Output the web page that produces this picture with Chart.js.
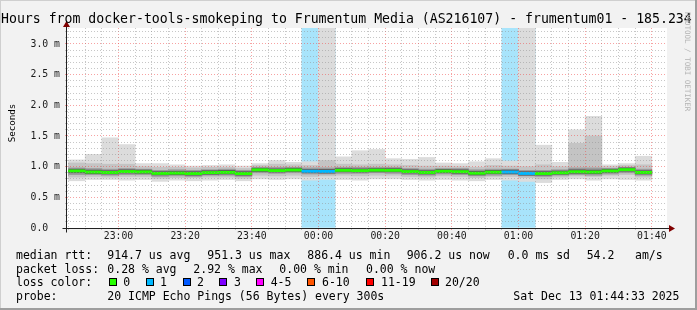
<!DOCTYPE html>
<html>
<head>
<meta charset="utf-8">
<script src="https://cdn.jsdelivr.net/npm/chart.js@4.4.1/dist/chart.umd.min.js"></script>
<style>
  html, body { margin: 0; padding: 0; background: #f2f2f2; overflow: hidden; }
  #wrap { position: relative; width: 697px; height: 310px; overflow: hidden; background: #f2f2f2; }
  #c { position: absolute; left: 0; top: 0; }
  .mono { position: absolute; font-family: "DejaVu Sans Mono", monospace; white-space: pre; color: #000; }
  .leg { font-size: 11.5px; line-height: 14px; }
  .box { position: absolute; width: 8px; height: 8px; box-sizing: border-box; border: 1px solid #000; }
  .edge { position: absolute; }
</style>
</head>
<body>
<div id="wrap">
  <canvas id="c" width="697" height="310"></canvas>
  <div class="edge" style="left:0;top:0;width:697px;height:1px;background:#cfcfcf"></div>
  <div class="edge" style="left:0;top:0;width:1px;height:310px;background:#cfcfcf"></div>
  <div class="edge" style="left:695px;top:0;width:2px;height:310px;background:#9e9e9e"></div>
  <div class="edge" style="left:0;top:308px;width:697px;height:2px;background:#9e9e9e"></div>
  <div id="title" class="mono" style="left:1px;top:11.4px;font-size:13.2px;line-height:16px;">Hours from docker-tools-smokeping to Frumentum Media (AS216107) - frumentum01 - 185.234</div>
  <div id="ytitle" class="mono" style="left:11px;top:122.5px;font-size:9.2px;line-height:11px;transform:translate(-50%,-50%) rotate(-90deg);">Seconds</div>
  <div id="wm" class="mono" style="left:683px;top:12px;font-size:7.5px;line-height:8px;color:#b4b4b4;writing-mode:vertical-rl;">RRDTOOL / TOBI OETIKER</div>
  <div id="legend"></div>
</div>
<script>
// ---------------- data ----------------
const slotStarts = ['22:45','22:50','22:55','23:00','23:05','23:10','23:15','23:20','23:25','23:30','23:35','23:40',
  '23:45','23:50','23:55','00:00','00:05','00:10','00:15','00:20','00:25','00:30','00:35','00:40',
  '00:45','00:50','00:55','01:00','01:05','01:10','01:15','01:20','01:25','01:30','01:35'];

// median RTT per 5-minute slot (ms)
const medianRtt = [0.930,0.912,0.905,0.920,0.915,0.890,0.895,0.888,0.903,0.907,0.887,0.948,
  0.936,0.945,0.925,0.922,0.940,0.935,0.942,0.940,0.920,0.905,0.925,0.918,
  0.893,0.910,0.912,0.889,0.888,0.900,0.917,0.912,0.930,0.951,0.906];

// lost pings (of 20) per slot
const lostPings = [0,0,0,0,0,0,0,0,0,0,0,0, 0,0,1,1,0,0,0,0,0,0,0,0, 0,0,1,1,0,0,0,0,0,0,0];

// smoke: spread of the 20 pings (ms)
const smokeMin = [0.77,0.79,0.79,0.78,0.79,0.76,0.78,0.77,0.78,0.79,0.77,0.80,
  0.79,0.80,0.78,0.79,0.79,0.78,0.80,0.80,0.79,0.78,0.79,0.78,
  0.77,0.79,0.78,0.76,0.74,0.79,0.80,0.78,0.80,0.79,0.78];
const smokeMax = [1.11,1.20,1.47,1.36,1.05,1.05,1.03,1.01,1.02,1.03,1.01,1.05,
  1.10,1.07,1.08,3.50,1.16,1.26,1.28,1.13,1.12,1.15,1.06,1.05,
  1.08,1.13,1.09,3.50,1.35,1.07,1.60,1.82,1.03,1.05,1.17];
const smokeP10 = [0.83,0.84,0.83,0.84,0.84,0.81,0.82,0.82,0.83,0.83,0.81,0.86,
  0.85,0.86,0.84,0.85,0.86,0.85,0.86,0.86,0.84,0.83,0.85,0.84,
  0.82,0.84,0.84,0.82,0.80,0.83,0.85,0.84,0.86,0.87,0.83];
const smokeP90 = [1.06,1.05,1.04,1.04,1.00,0.99,0.99,0.98,0.99,0.99,0.97,1.02,
  1.04,1.03,1.02,1.10,1.04,1.03,1.04,1.03,1.02,1.01,1.01,1.00,
  0.99,1.02,1.01,1.00,1.03,1.00,1.38,1.50,1.00,1.02,1.03];
const smokeP25 = [0.87,0.87,0.86,0.87,0.87,0.84,0.85,0.84,0.86,0.86,0.84,0.90,
  0.89,0.90,0.88,0.88,0.89,0.89,0.90,0.89,0.87,0.86,0.88,0.87,
  0.85,0.86,0.87,0.85,0.84,0.86,0.87,0.86,0.88,0.90,0.86];
const smokeP75 = [0.98,0.97,0.96,0.97,0.96,0.94,0.95,0.94,0.95,0.96,0.94,0.99,
  0.99,0.99,0.98,0.98,0.99,0.99,0.99,0.99,0.97,0.96,0.97,0.97,
  0.95,0.96,0.96,0.94,0.94,0.95,0.98,0.98,0.97,0.99,0.96];
const smokeP40 = [0.900,0.885,0.880,0.895,0.890,0.865,0.870,0.860,0.875,0.880,0.860,0.920,
  0.910,0.920,0.900,0.895,0.915,0.910,0.915,0.915,0.895,0.880,0.900,0.890,
  0.865,0.885,0.885,0.860,0.860,0.875,0.890,0.885,0.905,0.925,0.880];
const smokeP60 = [0.960,0.945,0.935,0.950,0.945,0.920,0.925,0.920,0.935,0.940,0.920,0.975,
  0.965,0.975,0.955,0.955,0.970,0.965,0.970,0.970,0.950,0.935,0.955,0.950,
  0.925,0.940,0.945,0.920,0.920,0.930,0.950,0.945,0.960,0.980,0.935];

const xTickLabels = ['23:00','23:20','23:40','00:00','00:20','00:40','01:00','01:20','01:40'];
const yTickValues = [0, 0.5, 1.0, 1.5, 2.0, 2.5, 3.0];
const yTickLabels = ['0.0', '0.5 m', '1.0 m', '1.5 m', '2.0 m', '2.5 m', '3.0 m'];
const windowStart = '22:44:33';
const windowEnd = '01:44:33';
const yAxisMax = 3.26;

const lossLegendLabels = ['0', '1', '2', '3', '4-5', '6-10', '11-19', '20/20'];
const lossLegendColors = ['#26ff00', '#00b8ff', '#0059ff', '#7e00ff', '#ff00ff', '#ff5500', '#ff0000', '#a10000'];

const statLines = [
  [[16, 'median rtt:'], [107.3, '914.7 us avg'], [207.3, '951.3 us max'], [307.3, '886.4 us min'], [406.7, '906.2 us now'], [507.7, '0.0 ms sd'], [586.7, '54.2'], [635, 'am/s']],
  [[16, 'packet loss:'], [107.3, '0.28 % avg'], [193.3, '2.92 % max'], [279.3, '0.00 % min'], [366, '0.00 % now']],
  [[16, 'loss color:']],
  [[16, 'probe:'], [107.3, '20 ICMP Echo Pings (56 Bytes) every 300s'], [513.3, 'Sat Dec 13 01:44:33 2025']]
];
const legendBoxX = [108.7, 145.7, 182.7, 219.3, 256, 307.3, 365.7, 430.7];
const legendLabelX = [123.3, 160, 197, 234, 270.7, 322, 381, 445];

// ---------------- helpers ----------------
function toMin(s) {
  const p = s.split(':').map(Number);
  let h = p[0]; if (h < 12) h += 24;
  return (h - 22) * 60 + p[1] + (p[2] || 0) / 60;
}
const SLOT = 5;
const xMin = toMin(windowStart), xMax = toMin(windowEnd);
const centers = slotStarts.map(s => toMin(s) + SLOT / 2);
const xMajor = xTickLabels.map(toMin);
const xGrid = [];
for (let t = Math.ceil(xMin / SLOT) * SLOT; t < xMax; t += SLOT) xGrid.push(t);
const yGrid = [];
for (let i = 0; i * 0.1 <= yAxisMax; i++) yGrid.push(i / 10);
const isYMajor = v => yTickValues.some(t => Math.abs(t - v) < 1e-6);
const isXMajor = v => xMajor.some(t => Math.abs(t - v) < 1e-6);

const MEDIAN_BAND = 0.036;
const lossBgColors = {1: '#a8e4fb', 2: '#a8c8fd'};

function range(lo, hi) { return centers.map((x, i) => ({x, y: [lo[i], hi[i]]})); }
const barBase = { type: 'bar', grouped: false, barPercentage: 1, categoryPercentage: 1, borderWidth: 0, borderSkipped: false };

const datasets = [
  Object.assign({}, barBase, { label: 'median', data: centers.map((x, i) => ({x, y: [medianRtt[i] - MEDIAN_BAND / 2, medianRtt[i] + MEDIAN_BAND / 2]})),
    backgroundColor: lostPings.map(n => n === 0 ? lossLegendColors[0] : lossLegendColors[Math.min(n, 3)]) }),
  Object.assign({}, barBase, { label: 'p40-p60', data: range(smokeP40, smokeP60), backgroundColor: '#5e5e5e' }),
  Object.assign({}, barBase, { label: 'p25-p75', data: range(smokeP25, smokeP75), backgroundColor: '#9c9c9c' }),
  Object.assign({}, barBase, { label: 'p10-p90', data: range(smokeP10, smokeP90), backgroundColor: '#c4c4c4' }),
  Object.assign({}, barBase, { label: 'min-max', data: range(smokeMin, smokeMax), backgroundColor: '#dcdcdc' }),
  Object.assign({}, barBase, { label: 'loss', data: centers.map((x, i) => ({x, y: lostPings[i] > 0 ? [0, yAxisMax + 1] : null})),
    backgroundColor: lostPings.map(n => lossBgColors[n] || 'rgba(0,0,0,0)') })
];

const GRID = 'rgba(143,143,143,0.5)';
const MGRID = 'rgba(240,70,70,0.5)';

const framePlugin = {
  id: 'frame',
  beforeDraw(chart) {
    const {ctx, chartArea: a} = chart;
    ctx.save();
    ctx.fillStyle = '#ffffff';
    ctx.fillRect(a.left, a.top, a.right - a.left, a.bottom - a.top);
    ctx.restore();
  },
  afterDraw(chart) {
    const {ctx, chartArea: a} = chart;
    const x0 = Math.round(a.left) - 0.5, y0 = Math.round(a.bottom) + 0.5;
    ctx.save();
    ctx.strokeStyle = '#212121';
    ctx.lineWidth = 1;
    ctx.beginPath();
    ctx.moveTo(x0, y0 + 4); ctx.lineTo(x0, a.top - 4);
    ctx.moveTo(x0 - 4, y0); ctx.lineTo(a.right + 4, y0);
    ctx.stroke();
    ctx.fillStyle = '#800000';
    ctx.beginPath();
    ctx.moveTo(x0, a.top - 7); ctx.lineTo(x0 - 3.5, a.top - 1); ctx.lineTo(x0 + 3.5, a.top - 1); ctx.closePath();
    ctx.fill();
    ctx.beginPath();
    ctx.moveTo(a.right + 8, y0); ctx.lineTo(a.right + 2, y0 - 3.5); ctx.lineTo(a.right + 2, y0 + 3.5); ctx.closePath();
    ctx.fill();
    ctx.restore();
  }
};

const tickFont = { family: 'DejaVu Sans Mono', size: 9.8 };

new Chart(document.getElementById('c'), {
  type: 'bar',
  data: { datasets },
  options: {
    responsive: false,
    animation: false,
    events: [],
    layout: { padding: { top: 28, right: 30, left: 0, bottom: 0 } },
    plugins: { legend: { display: false }, tooltip: { enabled: false }, title: { display: false } },
    scales: {
      x: {
        type: 'linear', min: xMin, max: xMax, offset: false,
        afterFit: s => { s.height = 82; },
        afterBuildTicks: s => { s.ticks = xGrid.map(v => ({value: v})); },
        grid: { z: 1, offset: false, lineWidth: 1, drawTicks: true, tickLength: 2,
          color: c => (c.tick && isXMajor(c.tick.value)) ? MGRID : GRID,
          tickColor: c => (c.tick && isXMajor(c.tick.value)) ? MGRID : GRID },
        border: { display: false, dash: [1, 2] },
        ticks: { autoSkip: false, maxRotation: 0, minRotation: 0, padding: 1, font: tickFont, color: '#1a1a1a',
          callback: v => {
            const i = xMajor.findIndex(t => Math.abs(t - v) < 1e-6);
            return i >= 0 ? xTickLabels[i] : '';
          } }
      },
      y: {
        type: 'linear', min: 0, max: yAxisMax,
        afterFit: s => { s.width = 67; },
        afterBuildTicks: s => { s.ticks = yGrid.map(v => ({value: v})); },
        grid: { z: 1, lineWidth: 1, drawTicks: true, tickLength: 2,
          color: c => (c.tick && isYMajor(c.tick.value)) ? MGRID : GRID,
          tickColor: c => (c.tick && isYMajor(c.tick.value)) ? MGRID : GRID },
        border: { display: false, dash: [1, 2] },
        ticks: { autoSkip: false, padding: 5, font: tickFont, color: '#1a1a1a',
          callback: v => {
            const i = yTickValues.findIndex(t => Math.abs(t - v) < 1e-6);
            return i >= 0 ? yTickLabels[i].padEnd(5, ' ') : '';
          } }
      }
    }
  },
  plugins: [framePlugin]
});

// ---------------- legend (text) ----------------
const legend = document.getElementById('legend');
const lineTops = [248, 261.5, 275.3, 289];
statLines.forEach((segs, li) => {
  segs.forEach(([x, txt]) => {
    const d = document.createElement('div');
    d.className = 'mono leg';
    d.style.left = x + 'px';
    d.style.top = lineTops[li] + 'px';
    d.textContent = txt;
    legend.appendChild(d);
  });
});
lossLegendLabels.forEach((lab, i) => {
  const b = document.createElement('div');
  b.className = 'box';
  b.style.left = legendBoxX[i] + 'px';
  b.style.top = '278.3px';
  b.style.background = lossLegendColors[i];
  legend.appendChild(b);
  const t = document.createElement('div');
  t.className = 'mono leg';
  t.style.left = legendLabelX[i] + 'px';
  t.style.top = lineTops[2] + 'px';
  t.textContent = lab;
  legend.appendChild(t);
});
</script>
</body>
</html>
